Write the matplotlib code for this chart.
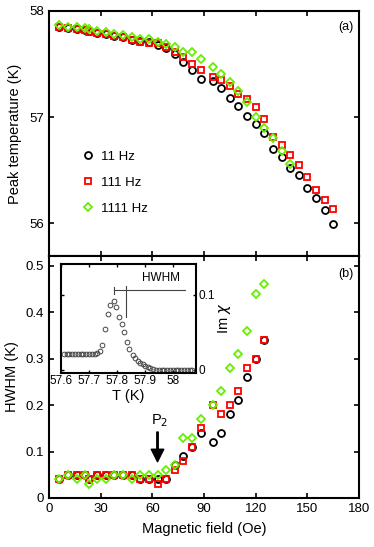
import numpy as np
import matplotlib.pyplot as plt
from matplotlib.ticker import FormatStrFormatter

plt.rcParams['font.family'] = ['Liberation Sans', 'DejaVu Sans']

# --- panel (a): peak temperature vs field
field_a = [6, 11, 16, 21, 23, 28, 33, 38, 43, 48, 53, 58, 63, 68, 73, 78, 83, 88,
           95, 100, 105, 110, 115, 120, 125, 130, 135, 140, 145, 150, 155, 160, 165]
tp_11 = [57.85, 57.84, 57.83, 57.82, 57.81, 57.79, 57.78, 57.76, 57.75, 57.73, 57.72,
         57.71, 57.68, 57.65, 57.59, 57.52, 57.44, 57.36, 57.34, 57.27, 57.18, 57.10,
         57.01, 56.93, 56.85, 56.70, 56.62, 56.52, 56.45, 56.33, 56.24, 56.12, 55.99]
tp_111 = [57.85, 57.84, 57.83, 57.82, 57.80, 57.79, 57.78, 57.76, 57.75, 57.73, 57.71,
          57.70, 57.70, 57.66, 57.61, 57.57, 57.50, 57.44, 57.38, 57.35, 57.29, 57.22,
          57.17, 57.09, 56.98, 56.81, 56.74, 56.64, 56.55, 56.43, 56.31, 56.22, 56.13]
field_a_1111 = field_a[:28]
tp_1111 = [57.87, 57.85, 57.85, 57.84, 57.83, 57.81, 57.80, 57.78, 57.77, 57.75, 57.74,
           57.74, 57.71, 57.69, 57.66, 57.61, 57.61, 57.55, 57.47, 57.41, 57.33, 57.25,
           57.14, 57.00, 56.90, 56.80, 56.68, 56.56]

# --- panel (b): HWHM vs field
field_b = [6, 11, 16, 21, 23, 28, 33, 38, 43, 48, 53, 58, 63, 68, 73, 78, 83, 88,
           95, 100, 105, 110, 115, 120, 125]
hw_11 = [0.04, 0.05, 0.05, 0.05, 0.04, 0.05, 0.05, 0.05, 0.05, 0.05, 0.04, 0.04, 0.04,
         0.04, 0.07, 0.09, 0.11, 0.14, 0.12, 0.14, 0.18, 0.21, 0.26, 0.30, 0.34]
hw_111 = [0.04, 0.05, 0.05, 0.05, 0.04, 0.05, 0.05, 0.05, 0.05, 0.05, 0.04, 0.04, 0.03,
          0.04, 0.06, 0.08, 0.11, 0.15, 0.20, 0.18, 0.20, 0.23, 0.28, 0.30, 0.34]
hw_1111 = [0.04, 0.05, 0.04, 0.05, 0.03, 0.04, 0.04, 0.05, 0.05, 0.04, 0.05, 0.05, 0.05,
           0.06, 0.07, 0.13, 0.13, 0.17, 0.20, 0.23, 0.28, 0.31, 0.36, 0.44, 0.46]

# --- inset: Im chi vs T
t_inset = [57.610, 57.620, 57.630, 57.640, 57.650, 57.660, 57.670, 57.680, 57.690,
           57.700, 57.710, 57.720, 57.730, 57.738, 57.748, 57.758, 57.768, 57.776,
           57.788, 57.798, 57.807, 57.817, 57.826, 57.835, 57.845, 57.856, 57.866,
           57.875, 57.884, 57.893, 57.902, 57.911, 57.920, 57.930, 57.940, 57.950,
           57.960, 57.970, 57.980, 57.990, 58.000, 58.010, 58.020, 58.030, 58.040,
           58.050, 58.060, 58.070]
chi_inset = [0.021, 0.021, 0.021, 0.021, 0.021, 0.021, 0.021, 0.021, 0.021, 0.021,
             0.021, 0.021, 0.022, 0.025, 0.033, 0.054, 0.074, 0.087, 0.092, 0.084,
             0.070, 0.061, 0.051, 0.037, 0.027, 0.020, 0.016, 0.012, 0.009, 0.007,
             0.005, 0.003, 0.002, 0.001, 0.000, 0.000, -0.001, -0.001, -0.001, -0.001,
             -0.001, -0.001, -0.001, -0.001, -0.001, -0.001, -0.001, -0.001]

labels = ['11 Hz', '111 Hz', '1111 Hz']
green = '#66ee00'

fig = plt.figure(figsize=(3.74, 5.47), dpi=100)
ax1 = fig.add_axes([0.131, 0.532, 0.829, 0.448])
ax2 = fig.add_axes([0.131, 0.0896, 0.829, 0.4424])

mk = dict(linestyle='none', markerfacecolor='none', markeredgewidth=1.3)


def style(ax):
    for s in ax.spines.values():
        s.set_linewidth(1.5)
    ax.tick_params(direction='in', top=True, right=True, length=3.5, width=1.2,
                   labelsize=9.5)


# panel (a)
ax1.plot(field_a, tp_11, marker='o', markersize=5, markeredgecolor='black', label=labels[0], **mk)
ax1.plot(field_a, tp_111, marker='s', markersize=4.2, markeredgecolor='red', label=labels[1], **mk)
ax1.plot(field_a_1111, tp_1111, marker='D', markersize=4.3, markeredgecolor=green, label=labels[2], **mk)
ax1.set_xlim(0, 180)
ax1.set_ylim(55.69, 58)
ax1.set_xticks(np.arange(0, 181, 30))
ax1.set_xticklabels([])
ax1.set_yticks([56, 57, 58])
ax1.set_ylabel('Peak temperature (K)', fontsize=10.5, labelpad=5)
style(ax1)
ax1.text(0.957, 0.936, '(a)', transform=ax1.transAxes, ha='center', va='center', fontsize=9)
ax1.legend(loc='center left', bbox_to_anchor=(0.065, 0.30), frameon=False, fontsize=9.5,
           handletextpad=0.5, labelspacing=1.05, handlelength=1.0)

# panel (b)
ax2.plot(field_b, hw_11, marker='o', markersize=5, markeredgecolor='black', **mk)
ax2.plot(field_b, hw_111, marker='s', markersize=4.2, markeredgecolor='red', **mk)
ax2.plot(field_b, hw_1111, marker='D', markersize=4.3, markeredgecolor=green, **mk)
ax2.set_xlim(0, 180)
ax2.set_ylim(0, 0.521)
ax2.set_xticks(np.arange(0, 181, 30))
ax2.set_yticks(np.arange(0, 0.51, 0.1))
ax2.yaxis.set_major_formatter(FormatStrFormatter('%g'))
ax2.set_xlabel('Magnetic field (Oe)', fontsize=10.5, labelpad=5)
ax2.set_ylabel('HWHM (K)', fontsize=10.5, labelpad=5)
style(ax2)
ax2.text(0.957, 0.926, '(b)', transform=ax2.transAxes, ha='center', va='center', fontsize=9)
ax2.annotate('', xy=(63, 0.078), xytext=(63, 0.142),
             arrowprops=dict(facecolor='black', edgecolor='black', width=1.0,
                             headwidth=9, headlength=9))
ax2.text(64.5, 0.148, 'P$_2$', ha='center', va='bottom', fontsize=10.5)

# inset
axi = fig.add_axes([0.163, 0.318, 0.361, 0.199])
axi.plot(t_inset, chi_inset, marker='o', markersize=3.4, markeredgecolor='#444444',
         linestyle='none', markerfacecolor='none', markeredgewidth=0.7)
axi.set_xlim(57.6, 58.083)
axi.set_ylim(-0.0045, 0.141)
axi.set_xticks([57.6, 57.7, 57.8, 57.9, 58.0])
axi.xaxis.set_major_formatter(FormatStrFormatter('%g'))
axi.set_yticks([0, 0.1])
axi.yaxis.set_major_formatter(FormatStrFormatter('%g'))
for s in axi.spines.values():
    s.set_linewidth(1.5)
axi.tick_params(direction='in', top=True, right=True, left=True, labelleft=False,
                labelright=True, length=2.5, width=1.0, labelsize=8.5, pad=1.5)
axi.set_xlabel('T (K)', fontsize=10.5, labelpad=1)
axi.yaxis.set_label_position('right')
axi.set_ylabel('Im $\\chi$', fontsize=10.5, labelpad=1)
# HWHM marker lines
axi.plot([57.788, 58.045], [0.106, 0.106], color='#444444', lw=0.8)
axi.plot([57.788, 57.788], [0.101, 0.111], color='#444444', lw=0.8)
axi.plot([57.833, 57.833], [0.071, 0.112], color='#444444', lw=0.8)
axi.text(57.957, 0.115, 'HWHM', ha='center', va='bottom', fontsize=8.5)

fig.savefig('out.png', dpi=100)
